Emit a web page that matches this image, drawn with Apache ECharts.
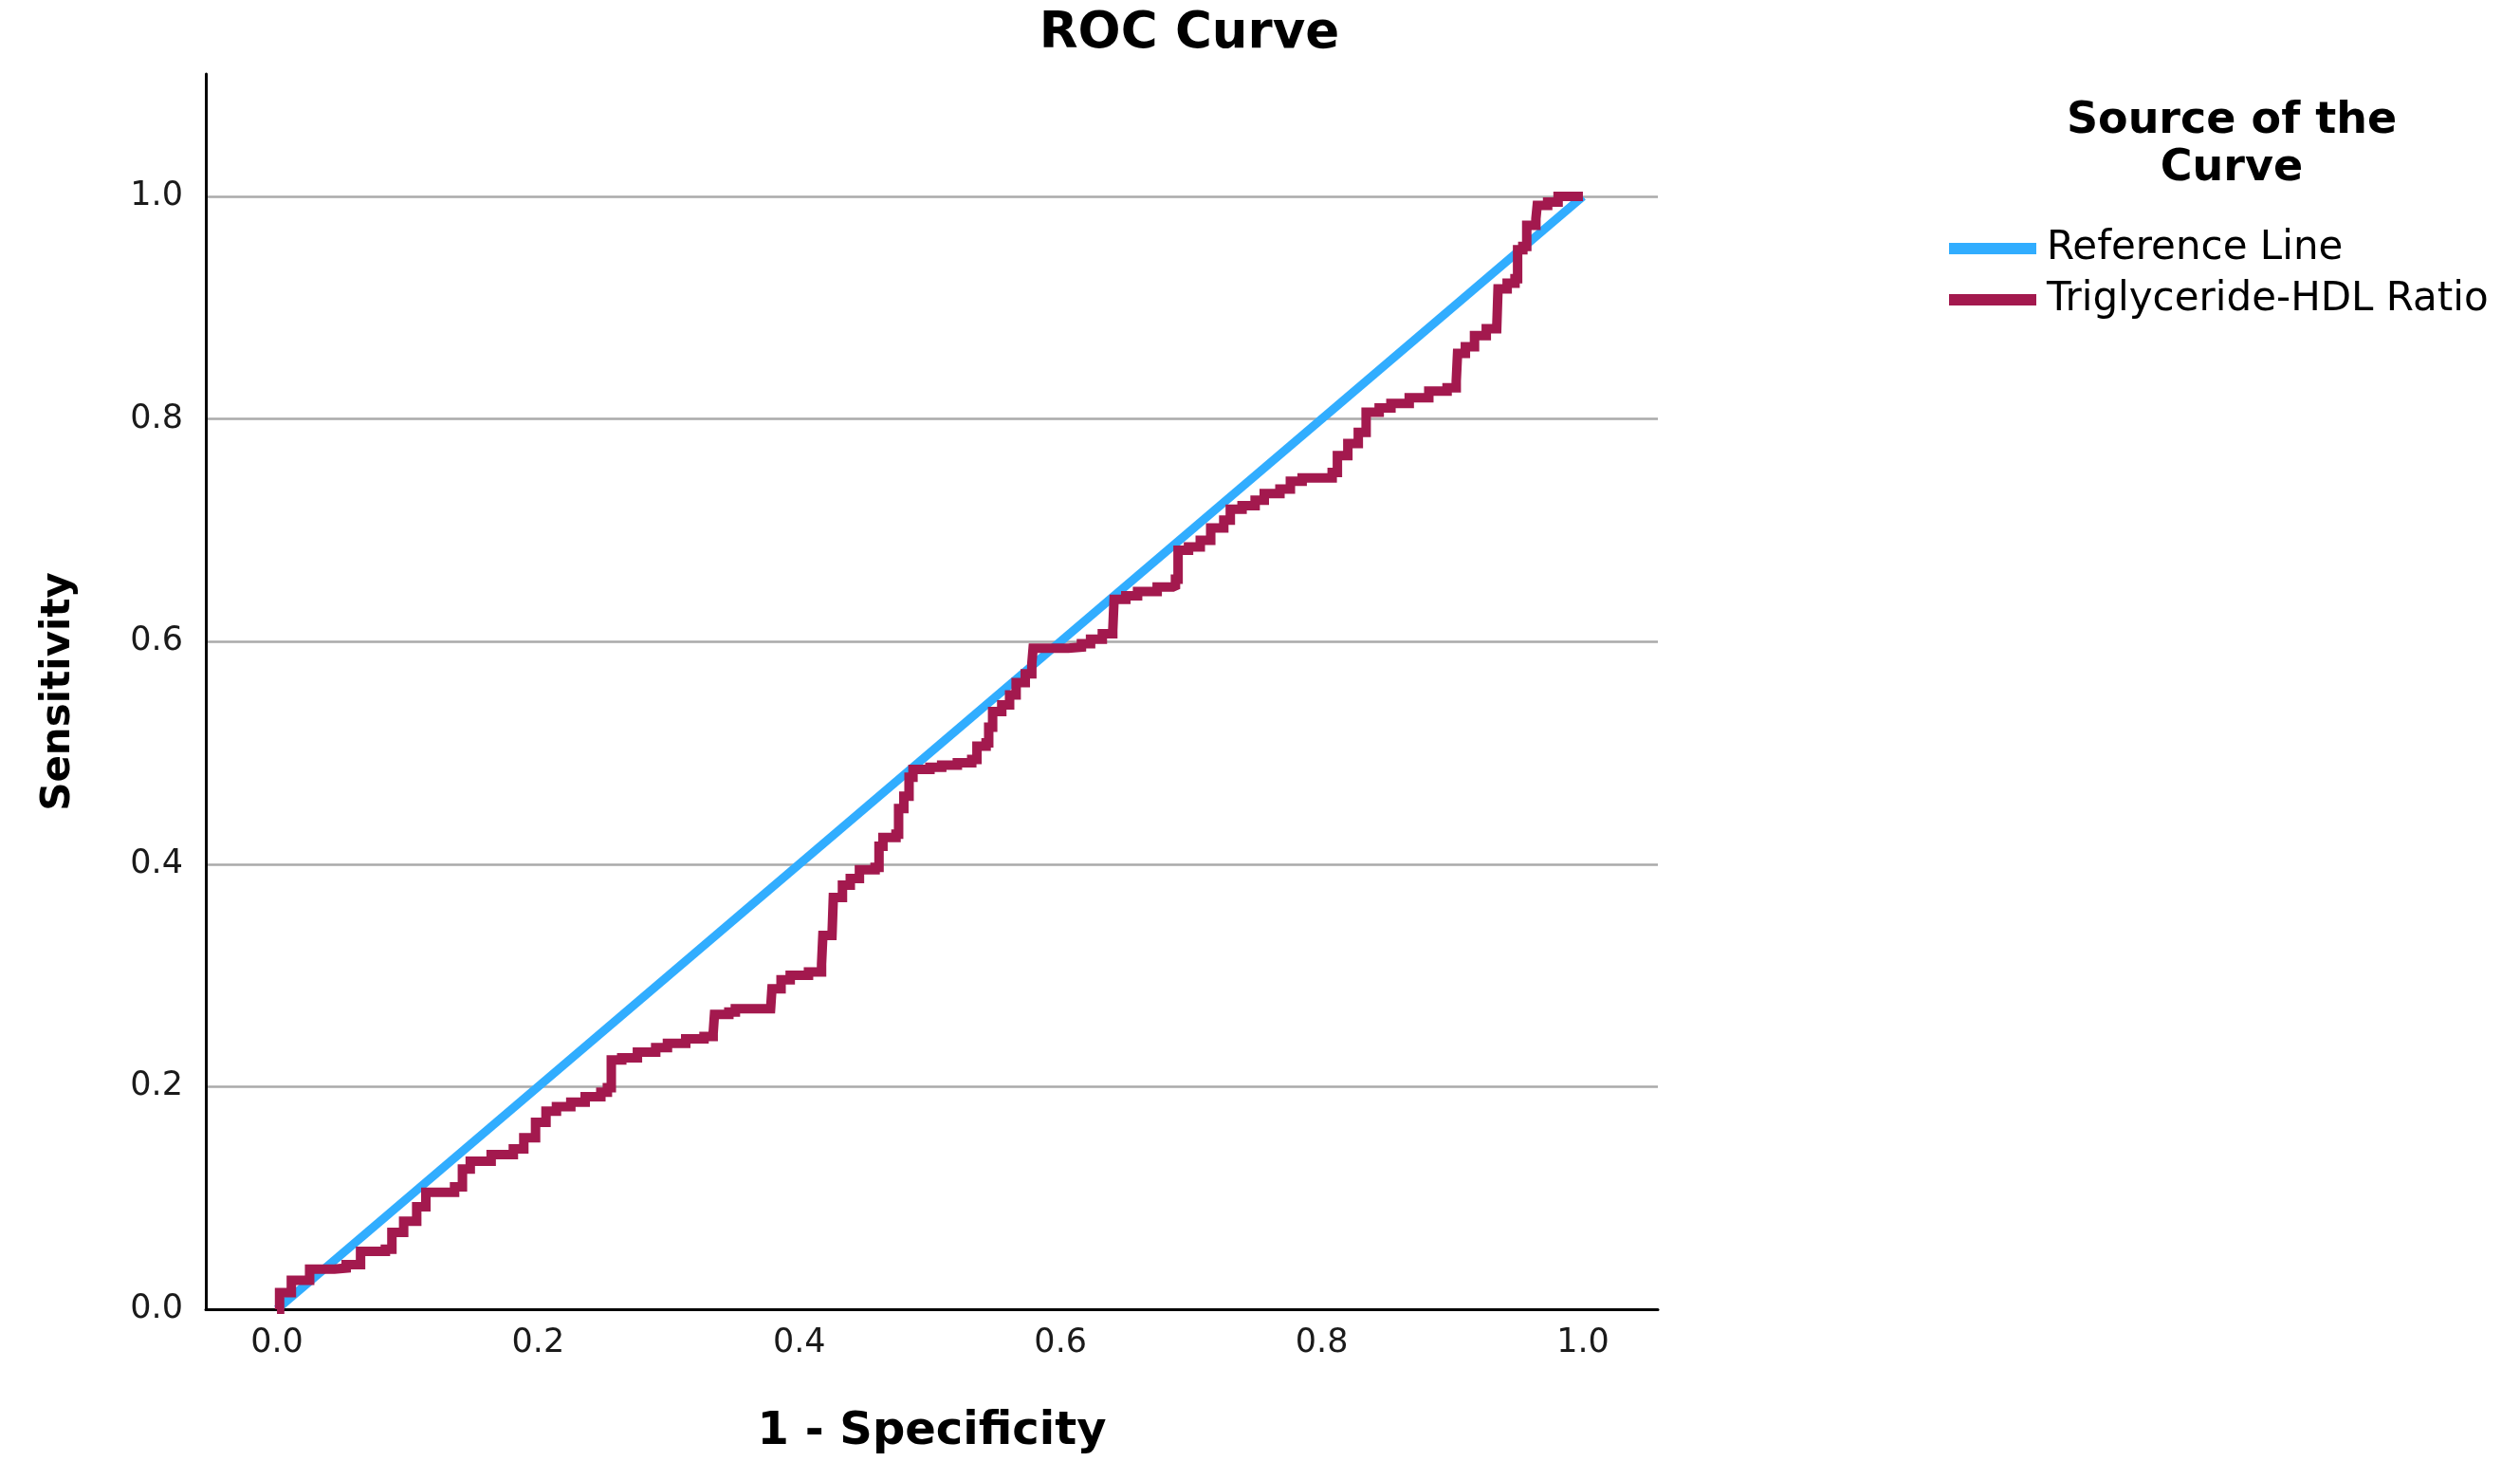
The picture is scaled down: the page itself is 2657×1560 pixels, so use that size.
<!DOCTYPE html>
<html>
<head>
<meta charset="utf-8">
<script src="https://cdn.jsdelivr.net/npm/echarts@6/dist/echarts.min.js"></script>
<style>
html,body{margin:0;padding:0;background:#fff;}
#chart{width:2657px;height:1560px;}
</style>
</head>
<body>
<div id="chart"></div>
<script>
// ---- data ----
const chartTitle = 'ROC Curve';
const xAxisTitle = '1 - Specificity';
const yAxisTitle = 'Sensitivity';
const legendTitle = 'Source of the\nCurve';
const seriesNames = ['Reference Line', 'Triglyceride-HDL Ratio'];
const tickLabels = ['0.0', '0.2', '0.4', '0.6', '0.8', '1.0'];

// reference (chance) line
const refX = [0, 1];
const refY = [0, 1];

// ROC curve: 1 - specificity (x) and sensitivity (y)
const rocX = [0,0.002,0.011,0.025,0.044,0.053,0.064,0.064,0.083,0.088,0.097,0.107,0.107,0.114,0.136,0.142,0.148,0.164,0.181,0.189,0.198,0.206,0.214,0.225,0.236,0.248,0.253,
  0.256,0.264,0.276,0.290,0.299,0.313,0.327,0.334,0.335,0.346,0.351,0.378,0.379,0.386,0.393,0.407,0.417,0.418,0.425,0.426,0.433,0.439,0.446,0.458,0.461,
  0.464,0.474,0.476,0.480,0.484,0.487,0.500,0.509,0.521,0.532,0.536,0.543,0.545,0.548,0.555,0.561,0.566,0.573,0.578,0.579,0.592,0.606,0.616,0.623,0.632,0.640,0.641,0.650,0.659,0.674,0.686,0.688,0.690,0.698,0.707,0.715,0.725,0.730,0.739,0.749,0.756,0.768,0.776,0.785,
  0.808,0.812,0.820,0.828,0.834,0.844,0.853,0.867,0.882,0.896,0.903,0.904,0.910,0.917,0.926,0.934,0.935,0.942,0.948,0.950,0.954,0.957,0.964,0.965,0.973,0.981,1.0];
const rocY = [0,0.015,0.026,0.036,0.037,0.040,0.043,0.052,0.054,0.069,0.079,0.080,0.092,0.105,0.110,0.126,0.133,0.139,0.144,0.154,0.168,0.178,0.182,0.186,0.191,0.195,0.199,
  0.224,0.226,0.231,0.235,0.239,0.243,0.245,0.248,0.265,0.267,0.270,0.270,0.288,0.296,0.300,0.303,0.310,0.336,0.337,0.370,0.381,0.387,0.395,0.397,0.416,
  0.424,0.427,0.450,0.461,0.478,0.485,0.487,0.489,0.491,0.494,0.506,0.509,0.523,0.537,0.543,0.552,0.563,0.571,0.580,0.594,0.594,0.595,0.598,0.602,0.607,0.610,0.638,0.641,0.645,0.649,0.650,0.656,0.682,0.685,0.691,0.702,0.709,0.719,0.722,0.727,0.733,0.737,0.744,0.747,
  0.752,0.767,0.778,0.788,0.806,0.810,0.814,0.819,0.825,0.828,0.834,0.859,0.865,0.875,0.881,0.882,0.917,0.922,0.926,0.952,0.955,0.974,0.980,0.992,0.995,1.0,1.0];

// axis extents
const xMin = -0.0545, xMax = 1.0574;
const yMin = 0, yMax = 1.11;

// ---- build ----
const refData = refX.map((x, i) => [x, refY[i]]);
const rocData = rocX.map((x, i) => [x, rocY[i]]);
const FONT = 'DejaVu Sans';
const fmt = v => {
  const s = v.toFixed(1);
  return tickLabels.indexOf(s) >= 0 ? s : '';
};

const chart = echarts.init(document.getElementById('chart'), null, {renderer: 'canvas'});
chart.setOption({
  animation: false,
  backgroundColor: '#ffffff',
  grid: {left: 217, right: 909, top: 78, bottom: 180, containLabel: false},
  graphic: [
    {type: 'text', x: 1254, y: 36, style: {text: chartTitle, font: 'bold 53px "DejaVu Sans"', fill: '#000', textAlign: 'center', textVerticalAlign: 'middle'}},
    {type: 'text', x: 2353, y: 153, style: {text: legendTitle, font: 'bold 46px "DejaVu Sans"', lineHeight: 50, fill: '#000', textAlign: 'center', textVerticalAlign: 'middle'}}
  ],
  legend: {
    orient: 'vertical',
    left: 2050,
    top: 236,
    itemWidth: 92,
    itemHeight: 12,
    itemGap: 12,
    icon: 'rect',
    data: seriesNames,
    textStyle: {fontFamily: FONT, fontSize: 42, lineHeight: 42, color: '#000', padding: [0, 0, 0, 6]}
  },
  xAxis: {
    type: 'value',
    min: xMin,
    max: xMax,
    name: xAxisTitle,
    nameLocation: 'middle',
    nameGap: 106,
    nameTextStyle: {fontFamily: FONT, fontWeight: 'bold', fontSize: 48, color: '#000'},
    axisLine: {show: true, onZero: false, lineStyle: {color: '#000', width: 3}},
    axisTick: {show: false},
    axisLabel: {showMinLabel: false, showMaxLabel: false, formatter: fmt, margin: 18, fontFamily: FONT, fontSize: 35, color: '#1a1a1a'},
    splitLine: {show: false}
  },
  yAxis: {
    type: 'value',
    min: yMin,
    max: yMax,
    name: yAxisTitle,
    nameLocation: 'middle',
    nameGap: 134,
    nameTextStyle: {fontFamily: FONT, fontWeight: 'bold', fontSize: 42, color: '#000'},
    axisLine: {show: true, onZero: false, lineStyle: {color: '#000', width: 3}},
    axisTick: {show: false},
    axisLabel: {showMaxLabel: false, formatter: fmt, margin: 24, fontFamily: FONT, fontSize: 35, color: '#1a1a1a'},
    splitLine: {show: true, showMinLine: false, showMaxLine: false, lineStyle: {color: '#aaaaaa', width: 2.5}}
  },
  series: [
    {
      name: seriesNames[0],
      type: 'line',
      data: refData,
      showSymbol: false,
      symbol: 'none',
      color: '#31adff',
      lineStyle: {color: '#31adff', width: 9, cap: 'butt'},
      z: 2
    },
    {
      name: seriesNames[1],
      type: 'line',
      data: rocData,
      step: 'end',
      showSymbol: false,
      symbol: 'none',
      color: '#a3194e',
      lineStyle: {color: '#a3194e', width: 10, join: 'miter', cap: 'butt'},
      z: 3
    }
  ]
});
</script>
</body>
</html>
